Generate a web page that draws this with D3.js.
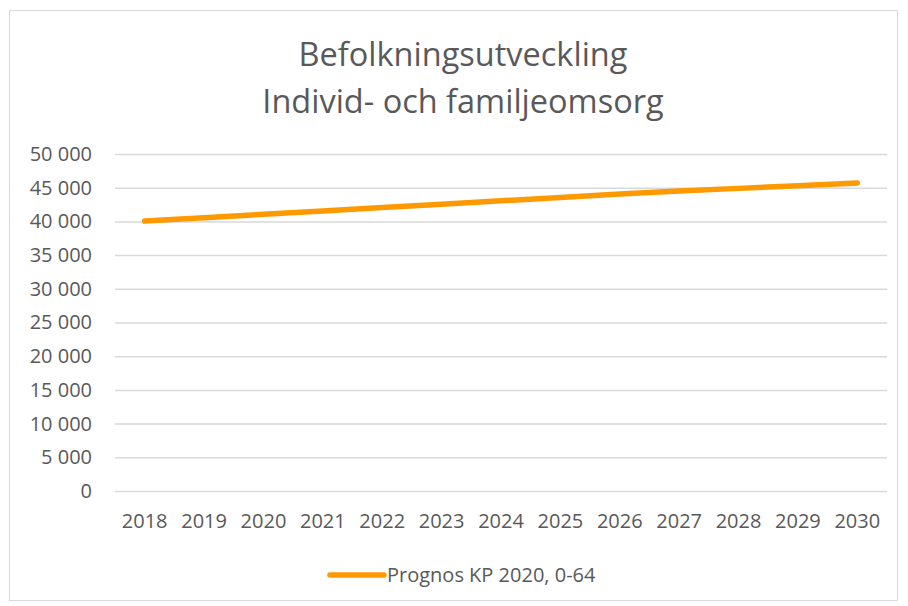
<!DOCTYPE html>
<html>
<head>
<meta charset="utf-8">
<script src="https://d3js.org/d3.v7.min.js"></script>
<style>
  body { margin: 0; background: #fff; }
  text { font-family: "Open Sans", "Noto Sans", sans-serif; fill: #595959; }
</style>
</head>
<body>
<svg width="908" height="606"></svg>
<script>
// Chart data
var years = ["2018", "2019", "2020", "2021", "2022", "2023", "2024", "2025", "2026", "2027", "2028", "2029", "2030"];
var prognos = [40050, 40550, 41050, 41550, 42050, 42550, 43050, 43550, 44050, 44500, 44900, 45300, 45700];
var yTicks = [0, 5000, 10000, 15000, 20000, 25000, 30000, 35000, 40000, 45000, 50000];
var titleLines = ["Befolkningsutveckling", "Individ- och familjeomsorg"];
var seriesName = "Prognos KP 2020, 0-64";

var svg = d3.select("svg");
var margin = {top: 154, right: 21, bottom: 115, left: 115};
var width = 908 - margin.left - margin.right;
var height = 606 - margin.top - margin.bottom;

// chart border
svg.append("rect")
  .attr("x", 9.5).attr("y", 10.5)
  .attr("width", 888).attr("height", 590)
  .attr("fill", "none")
  .attr("stroke", "#d9d9d9")
  .attr("stroke-width", 1);

// Title
svg.selectAll(".title")
  .data(titleLines)
  .enter().append("text")
  .attr("class", "title")
  .attr("x", 463)
  .attr("y", function(d, i) { return 66 + i * 47; })
  .attr("text-anchor", "middle")
  .style("font-size", "32.5px")
  .text(function(d) { return d; });

var g = svg.append("g").attr("transform", "translate(" + margin.left + "," + margin.top + ")");

var x = d3.scaleBand().domain(years).range([0, width]);
var y = d3.scaleLinear().domain([0, 50000]).range([height, 0]);

var fmt = function(d) { return d3.format(",")(d).replace(/,/g, " "); };

// gridlines
g.append("g")
  .call(d3.axisLeft(y).tickValues(yTicks).tickSize(-width).tickFormat(""))
  .call(function(a) {
    a.select(".domain").remove();
    a.selectAll("line").attr("stroke", "#d9d9d9").attr("stroke-width", 1.5);
  });

// y labels
g.append("g")
  .call(d3.axisLeft(y).tickValues(yTicks).tickSize(0).tickPadding(23).tickFormat(fmt))
  .call(function(a) {
    a.select(".domain").remove();
    a.selectAll("text").style("font-size", "20px").attr("fill", "#595959");
  });

// x labels
g.append("g")
  .attr("transform", "translate(0," + height + ")")
  .call(d3.axisBottom(x).tickSize(0).tickPadding(23))
  .call(function(a) {
    a.select(".domain").remove();
    a.selectAll("text").style("font-size", "20px").attr("fill", "#595959");
  });

// line
var line = d3.line()
  .x(function(d, i) { return x(years[i]) + x.bandwidth() / 2; })
  .y(function(d) { return y(d); });

g.append("path")
  .datum(prognos)
  .attr("fill", "none")
  .attr("stroke", "#ff9900")
  .attr("stroke-width", 5.5)
  .attr("stroke-linecap", "round")
  .attr("stroke-linejoin", "round")
  .attr("d", line);

// legend
var legend = svg.append("g").attr("transform", "translate(330,575)");
legend.append("line")
  .attr("x1", 0).attr("x2", 54)
  .attr("stroke", "#ff9900")
  .attr("stroke-width", 5.5)
  .attr("stroke-linecap", "round");
legend.append("text")
  .attr("x", 57).attr("y", 7)
  .style("font-size", "20px")
  .text(seriesName);
</script>
</body>
</html>
